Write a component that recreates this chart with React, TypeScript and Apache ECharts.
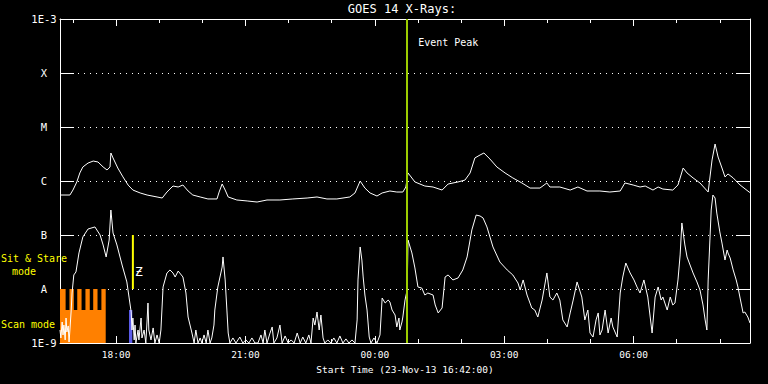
import React, { useEffect, useRef } from "react";
import * as echarts from "echarts";

// ---------- data (hours since 00:00 of 23-Nov-13; >24 = next day) ----------
const START_HOUR = 16.7; // 16:42
const END_HOUR = 32.7;   // 08:42
const EVENT_PEAK_HOUR = 24.75;

const majorTickHours = [18, 21, 24, 27, 30];
const minorTickHours = [17, 19, 20, 22, 23, 25, 26, 28, 29, 31, 32];
const levelLabels = ["1E-9", "A", "B", "C", "M", "X", "1E-3"];

// GOES 14 long channel (1-8 A), W/m^2
const longChannel: [number, number][] = [
  [16.70, 5.5e-7], [16.93, 5.5e-7], [17.00, 6.8e-7], [17.09, 9.6e-7], [17.16, 1.41e-6],
  [17.23, 1.82e-6], [17.35, 2.15e-6], [17.47, 2.34e-6], [17.58, 2.25e-6], [17.70, 1.82e-6],
  [17.79, 1.6e-6], [17.86, 1.82e-6], [17.88, 3.3e-6], [17.93, 2.67e-6], [18.04, 1.74e-6],
  [18.16, 1.19e-6], [18.28, 8.4e-7], [18.39, 6.8e-7], [18.56, 6.0e-7], [18.72, 5.5e-7],
  [18.95, 5.06e-7], [19.07, 4.84e-7], [19.18, 6.25e-7], [19.32, 8.07e-7], [19.44, 7.74e-7],
  [19.55, 8.43e-7], [19.67, 6.53e-7], [19.78, 5.5e-7], [19.95, 5.06e-7], [20.13, 4.65e-7],
  [20.34, 4.65e-7], [20.39, 6.25e-7], [20.46, 8.8e-7], [20.53, 6.8e-7], [20.60, 5.06e-7],
  [20.80, 4.45e-7], [21.04, 4.27e-7], [21.27, 4.08e-7], [21.50, 4.45e-7], [21.80, 4.45e-7],
  [22.10, 4.65e-7], [22.43, 4.84e-7], [22.66, 5.06e-7], [22.89, 4.65e-7], [23.12, 4.65e-7],
  [23.42, 5.06e-7], [23.54, 6.0e-7], [23.66, 1.0e-6], [23.77, 7.4e-7], [23.89, 6.0e-7],
  [24.05, 5.27e-7], [24.17, 6.0e-7], [24.35, 6.53e-7], [24.51, 6.25e-7], [24.65, 6.25e-7],
  [24.72, 7.74e-7], [24.77, 1.41e-6], [24.93, 9.6e-7], [25.16, 8.07e-7], [25.35, 7.74e-7],
  [25.56, 6.8e-7], [25.70, 8.8e-7], [25.93, 9.6e-7], [26.09, 1.04e-6], [26.21, 1.41e-6],
  [26.32, 2.67e-6], [26.44, 3.03e-6], [26.53, 3.3e-6], [26.67, 2.55e-6], [26.83, 1.82e-6],
  [27.02, 1.41e-6], [27.20, 1.14e-6], [27.41, 9.2e-7], [27.60, 7.4e-7], [27.83, 7.4e-7],
  [27.99, 9.2e-7], [28.06, 7.74e-7], [28.29, 7.74e-7], [28.53, 6.8e-7], [28.71, 7.74e-7],
  [28.92, 6.53e-7], [29.22, 6.53e-7], [29.45, 6.25e-7], [29.69, 6.53e-7], [29.80, 9.2e-7],
  [29.99, 8.43e-7], [30.15, 7.74e-7], [30.27, 8.07e-7], [30.45, 6.8e-7], [30.57, 7.74e-7],
  [30.68, 7.1e-7], [30.91, 6.8e-7], [31.03, 8.43e-7], [31.15, 1.74e-6], [31.24, 1.41e-6],
  [31.38, 1.14e-6], [31.54, 9.2e-7], [31.73, 6.25e-7], [31.82, 2.45e-6], [31.89, 4.84e-6],
  [31.96, 2.78e-6], [32.05, 1.74e-6], [32.12, 1.19e-6], [32.19, 1.35e-6], [32.31, 1.14e-6],
  [32.47, 8.43e-7], [32.68, 6.25e-7], [32.70, 6.1e-7],
];

// GOES 14 short channel (0.5-4 A), W/m^2
const shortChannel: [number, number][] = [
  [16.70, 1.74e-9], [16.72, 1.24e-9], [16.75, 2.45e-9], [16.77, 1.41e-9], [16.79, 2.15e-9],
  [16.82, 1.14e-9], [16.84, 2.9e-9], [16.86, 1.6e-9], [16.89, 2.07e-9], [16.91, 1.04e-9],
  [16.93, 1.74e-9], [16.96, 4.08e-9], [16.98, 8.43e-9], [17.02, 1.82e-8], [17.07, 2.07e-8],
  [17.14, 4.65e-8], [17.23, 9.2e-8], [17.35, 1.29e-7], [17.51, 1.41e-7], [17.63, 1.0e-7],
  [17.70, 6.53e-8], [17.77, 3.92e-8], [17.84, 8.07e-8], [17.88, 2.9e-7], [17.93, 1.09e-7],
  [18.02, 6.53e-8], [18.14, 2.78e-8], [18.25, 1.35e-8], [18.30, 7.1e-9], [18.35, 3.75e-9],
  [18.37, 1.74e-9], [18.39, 2.9e-9], [18.42, 1.14e-9], [18.44, 2.15e-9], [18.46, 1.0e-9],
  [18.51, 1.74e-9], [18.53, 1.14e-9], [18.58, 2.9e-9], [18.60, 1.24e-9], [18.65, 1.74e-9],
  [18.69, 1.0e-9], [18.72, 2.67e-9], [18.74, 5.5e-9], [18.76, 1.74e-9], [18.81, 1.14e-9],
  [18.86, 1.9e-9], [18.90, 1.0e-9], [18.95, 1.41e-9], [19.00, 1.0e-9], [19.04, 1.74e-9],
  [19.09, 1.09e-8], [19.18, 1.98e-8], [19.25, 2.25e-8], [19.32, 1.98e-8], [19.37, 1.67e-8],
  [19.44, 2.15e-8], [19.55, 1.67e-8], [19.62, 8.43e-9], [19.67, 3.03e-9], [19.76, 1.53e-9],
  [19.81, 1.0e-9], [19.85, 1.74e-9], [19.90, 1.0e-9], [19.95, 1.24e-9], [19.99, 1.0e-9],
  [20.04, 1.41e-9], [20.09, 1.0e-9], [20.13, 1.74e-9], [20.18, 1.0e-9], [20.22, 1.24e-9],
  [20.27, 2.15e-9], [20.29, 4.08e-9], [20.36, 1.09e-8], [20.46, 2.55e-8], [20.48, 3.92e-8],
  [20.53, 1.47e-8], [20.57, 4.08e-9], [20.60, 1.53e-9], [20.64, 1.0e-9], [20.71, 1.24e-9],
  [20.78, 1.0e-9], [20.87, 1.29e-9], [20.94, 1.0e-9], [21.01, 1.14e-9], [21.08, 1.0e-9],
  [21.15, 1.24e-9], [21.22, 1.0e-9], [21.29, 1.0e-9], [21.36, 1.41e-9], [21.41, 1.0e-9],
  [21.45, 1.74e-9], [21.50, 1.0e-9], [21.57, 1.53e-9], [21.62, 1.98e-9], [21.66, 1.0e-9],
  [21.73, 1.24e-9], [21.80, 2.15e-9], [21.85, 1.0e-9], [21.92, 1.35e-9], [21.99, 1.0e-9],
  [22.06, 1.14e-9], [22.13, 1.0e-9], [22.20, 1.53e-9], [22.27, 1.0e-9], [22.33, 1.29e-9],
  [22.40, 1.0e-9], [22.47, 1.41e-9], [22.52, 1.0e-9], [22.57, 2.9e-9], [22.61, 2.15e-9],
  [22.66, 3.75e-9], [22.71, 1.74e-9], [22.75, 3.3e-9], [22.80, 1.24e-9], [22.84, 1.0e-9],
  [22.91, 1.14e-9], [22.98, 1.0e-9], [23.05, 1.24e-9], [23.12, 1.0e-9], [23.19, 1.35e-9],
  [23.26, 1.0e-9], [23.33, 1.19e-9], [23.40, 1.0e-9], [23.47, 1.14e-9], [23.54, 1.0e-9],
  [23.59, 2.67e-9], [23.61, 1.47e-8], [23.66, 6.0e-8], [23.70, 3.44e-8], [23.73, 1.67e-8],
  [23.77, 7.74e-9], [23.82, 4.08e-9], [23.87, 1.29e-9], [23.91, 1.0e-9], [23.98, 1.24e-9],
  [24.05, 1.0e-9], [24.12, 1.41e-9], [24.17, 6.8e-9], [24.24, 5.5e-9], [24.31, 6.25e-9],
  [24.35, 5.74e-9], [24.40, 4.08e-9], [24.47, 3.3e-9], [24.51, 1.98e-9], [24.56, 2.9e-9],
  [24.58, 1.74e-9], [24.63, 2.45e-9], [24.65, 3.03e-9], [24.70, 6.25e-9], [24.75, 9.58e-9],
  [24.77, 8.07e-8], [24.86, 4.65e-8], [24.93, 2.45e-8], [25.00, 1.09e-8], [25.09, 1.04e-8],
  [25.16, 7.74e-9], [25.23, 8.43e-9], [25.35, 7.74e-9], [25.40, 5.06e-9], [25.47, 3.6e-9],
  [25.56, 4.45e-9], [25.63, 1.67e-8], [25.70, 1.82e-8], [25.81, 1.47e-8], [25.93, 1.6e-8],
  [26.04, 2.25e-8], [26.14, 3.92e-8], [26.25, 1.24e-7], [26.35, 2.34e-7], [26.44, 2.25e-7],
  [26.51, 2.07e-7], [26.60, 1.41e-7], [26.74, 6.0e-8], [26.90, 3.16e-8], [27.07, 2.25e-8],
  [27.20, 1.82e-8], [27.32, 1.29e-8], [27.37, 9.58e-9], [27.44, 1.47e-8], [27.53, 7.74e-9],
  [27.64, 4.45e-9], [27.71, 4.08e-9], [27.78, 3.03e-9], [27.88, 6.25e-9], [27.99, 1.98e-8],
  [28.06, 7.1e-9], [28.13, 6.25e-9], [28.22, 8.43e-9], [28.29, 6.25e-9], [28.36, 2.67e-9],
  [28.46, 1.98e-9], [28.53, 3.6e-9], [28.60, 6.25e-9], [28.69, 1.35e-8], [28.80, 7.1e-9],
  [28.87, 2.67e-9], [28.94, 4.08e-9], [28.99, 1.53e-9], [29.06, 1.29e-9], [29.13, 2.67e-9],
  [29.18, 3.6e-9], [29.22, 1.41e-9], [29.27, 1.74e-9], [29.34, 4.08e-9], [29.41, 1.53e-9],
  [29.48, 2.9e-9], [29.52, 1.98e-9], [29.62, 1.29e-9], [29.69, 8.43e-9], [29.75, 1.67e-8],
  [29.82, 3.03e-8], [29.92, 1.98e-8], [30.01, 1.47e-8], [30.08, 1.09e-8], [30.15, 8.43e-9],
  [30.24, 1.47e-8], [30.33, 7.1e-9], [30.38, 3.3e-9], [30.43, 1.53e-9], [30.50, 7.1e-9],
  [30.57, 1.09e-8], [30.64, 6.25e-9], [30.68, 7.1e-9], [30.78, 4.08e-9], [30.85, 7.1e-9],
  [30.91, 5.06e-9], [30.96, 5.5e-9], [31.03, 1.47e-8], [31.08, 4.27e-8], [31.12, 1.67e-7],
  [31.19, 6.53e-8], [31.24, 3.92e-8], [31.31, 2.78e-8], [31.38, 1.98e-8], [31.47, 1.35e-8],
  [31.54, 9.58e-9], [31.61, 5.06e-9], [31.66, 2.67e-9], [31.70, 1.74e-9], [31.73, 1.47e-8],
  [31.77, 8.07e-8], [31.80, 2.9e-7], [31.84, 5.5e-7], [31.89, 4.84e-7], [31.93, 2.55e-7],
  [32.00, 1.14e-7], [32.05, 7.1e-8], [32.12, 3.44e-8], [32.17, 5.27e-8], [32.19, 4.65e-8],
  [32.24, 3.75e-8], [32.31, 2.25e-8], [32.38, 1.47e-8], [32.42, 1.09e-8], [32.47, 6.8e-9],
  [32.54, 3.6e-9], [32.58, 3.75e-9], [32.65, 3.03e-9], [32.70, 2.34e-9],
];

// Observation modes: [start hour, end hour, low flux, high flux]
const scanModeBlock = [16.70, 17.76, 1e-9, 1e-8];
const scanGapStarts = [16.83, 17.02, 17.20, 17.39, 17.57];
const scanGapEnds = [16.92, 17.10, 17.29, 17.47, 17.66];
const scanGapFloor = 4.08e-9;
const blueBlock = [18.30, 18.376, 1e-9, 4.08e-9];
const sitStareHour = 18.39;
const sitStareRange = [1e-7, 1e-8];
const sitStareMarkFlux = 2.15e-8;
const eventLabelFlux = 3.6e-4;

const MONO = "'DejaVu Sans Mono', monospace";

function fmtHour(h: number) {
  const hh = ((Math.round(h) % 24) + 24) % 24;
  return String(hh).padStart(2, "0") + ":00";
}

export default function App() {
  const ref = useRef<HTMLDivElement>(null);

  useEffect(() => {
    if (!ref.current) return;
    const chart = echarts.init(ref.current, null, { renderer: "svg" });

    const baseX: any = {
      type: "value",
      min: START_HOUR,
      max: END_HOUR,
      splitLine: { show: false },
      axisLabel: { show: false },
      axisLine: { show: false, onZero: false },
    };
    const white = { color: "#ffffff", width: 1 };

    const blocks: any[] = [
      { value: scanModeBlock, itemStyle: { color: "#ff8000" } },
      ...scanGapStarts.map((s, i) => ({
        value: [s, scanGapEnds[i], scanGapFloor, scanModeBlock[3]],
        itemStyle: { color: "#000000" },
      })),
      { value: blueBlock, itemStyle: { color: "#5c5ce8" } },
    ];

    const option: any = {
      animation: false,
      backgroundColor: "#000000",
      grid: { left: 60, top: 19, width: 690, height: 324, show: false, containLabel: false, outerBoundsMode: "none" },
      xAxis: [
        {
          ...baseX,
          position: "bottom",
          axisLine: { show: true, onZero: false, lineStyle: white },
          axisTick: { show: true, inside: true, length: 7, customValues: majorTickHours, lineStyle: white },
          axisLabel: {
            show: true,
            customValues: majorTickHours,
            formatter: (v: number) => fmtHour(v),
            color: "#ffffff",
            fontFamily: MONO,
            fontSize: 9.5,
            margin: 6,
          },
        },
        {
          ...baseX,
          position: "bottom",
          axisTick: { show: true, inside: true, length: 4, customValues: minorTickHours, lineStyle: white },
        },
        {
          ...baseX,
          position: "top",
          axisLine: { show: true, onZero: false, lineStyle: white },
          axisTick: { show: true, inside: true, length: 7, customValues: majorTickHours, lineStyle: white },
        },
        {
          ...baseX,
          position: "top",
          axisTick: { show: true, inside: true, length: 4, customValues: minorTickHours, lineStyle: white },
        },
      ],
      yAxis: [
        {
          type: "log",
          logBase: 10,
          min: 1e-9,
          max: 1e-3,
          splitNumber: 6,
          position: "left",
          axisLine: { show: true, onZero: false, lineStyle: white },
          axisTick: { show: true, inside: true, length: 14, lineStyle: white },
          minorTick: { show: false },
          axisLabel: {
            color: "#ffffff",
            fontFamily: MONO,
            fontSize: 10.5,
            align: "center",
            margin: 16,
            formatter: (v: number) => levelLabels[Math.round(Math.log10(v)) + 9] ?? "",
          },
          splitLine: { show: true, lineStyle: { color: "#ffffff", width: 1, type: [1, 5] } },
        },
        {
          type: "log",
          logBase: 10,
          min: 1e-9,
          max: 1e-3,
          splitNumber: 6,
          position: "right",
          axisLine: { show: true, onZero: false, lineStyle: white },
          axisTick: { show: true, inside: true, length: 14, lineStyle: white },
          axisLabel: { show: false },
          splitLine: { show: false },
        },
      ],
      series: [
        {
          type: "custom",
          name: "modes",
          xAxisIndex: 0,
          yAxisIndex: 0,
          z: 1,
          silent: true,
          encode: { x: [0, 1], y: [2, 3] },
          data: blocks,
          renderItem: (_params: any, api: any) => {
            const p0 = api.coord([api.value(0), api.value(3)]);
            const p1 = api.coord([api.value(1), api.value(2)]);
            return {
              type: "rect",
              shape: { x: p0[0], y: p0[1], width: p1[0] - p0[0], height: p1[1] - p0[1] },
              style: { fill: api.visual("color") },
            };
          },
        },
        {
          type: "line",
          name: "long",
          xAxisIndex: 0,
          yAxisIndex: 0,
          z: 3,
          data: longChannel,
          symbol: "none",
          showSymbol: false,
          silent: true,
          lineStyle: { color: "#ffffff", width: 1 },
          markLine: {
            silent: true,
            symbol: ["none", "none"],
            label: { show: false },
            lineStyle: { color: "#9ccd00", width: 2, type: "solid" },
            data: [{ xAxis: EVENT_PEAK_HOUR }],
          },
          markPoint: {
            silent: true,
            symbol: "circle",
            symbolSize: 0,
            label: {
              show: true,
              position: "right",
              distance: 11,
              formatter: () => "Event Peak",
              color: "#ffffff",
              fontFamily: MONO,
              fontSize: 10,
            },
            data: [{ coord: [EVENT_PEAK_HOUR, eventLabelFlux] }],
          },
        },
        {
          type: "line",
          name: "short",
          xAxisIndex: 0,
          yAxisIndex: 0,
          z: 3,
          data: shortChannel,
          symbol: "none",
          showSymbol: false,
          silent: true,
          lineStyle: { color: "#ffffff", width: 1 },
        },
        {
          type: "line",
          name: "sitstare",
          xAxisIndex: 0,
          yAxisIndex: 0,
          z: 4,
          data: sitStareRange.map((v) => [sitStareHour, v]),
          symbol: "none",
          showSymbol: false,
          silent: true,
          lineStyle: { color: "#ffff00", width: 2 },
          markPoint: {
            silent: true,
            symbol: "circle",
            symbolSize: 0,
            label: {
              show: true,
              position: "right",
              distance: 2,
              formatter: () => "Ƶ",
              color: "#ffffff",
              fontFamily: MONO,
              fontSize: 13,
            },
            data: [{ coord: [sitStareHour, sitStareMarkFlux] }],
          },
        },
      ],
      graphic: [
        {
          type: "text",
          x: 402,
          y: 9,
          style: { text: "GOES 14 X-Rays:", fill: "#ffffff", font: `12px ${MONO}`, textAlign: "center", textVerticalAlign: "middle", align: "center", verticalAlign: "middle" },
        },
        {
          type: "text",
          x: 405,
          y: 369,
          style: { text: "Start Time (23-Nov-13 16:42:00)", fill: "#ffffff", font: `9.5px ${MONO}`, textAlign: "center", textVerticalAlign: "middle", align: "center", verticalAlign: "middle" },
        },
        {
          type: "text",
          x: 34,
          y: 258,
          z: 10,
          style: { text: "Sit & Stare", fill: "#ffff00", font: `10px ${MONO}`, textAlign: "center", textVerticalAlign: "middle", align: "center", verticalAlign: "middle" },
        },
        {
          type: "text",
          x: 24,
          y: 271,
          style: { text: "mode", fill: "#ffff00", font: `10px ${MONO}`, textAlign: "center", textVerticalAlign: "middle", align: "center", verticalAlign: "middle" },
        },
        {
          type: "text",
          x: 28,
          y: 324,
          style: { text: "Scan mode", fill: "#ffff00", font: `10px ${MONO}`, textAlign: "center", textVerticalAlign: "middle", align: "center", verticalAlign: "middle" },
        },
      ],
    };

    chart.setOption(option);
    return () => chart.dispose();
  }, []);

  return (
    <div
      ref={ref}
      style={{ position: "fixed", left: 0, top: 0, width: 768, height: 384, background: "#000000" }}
    />
  );
}
